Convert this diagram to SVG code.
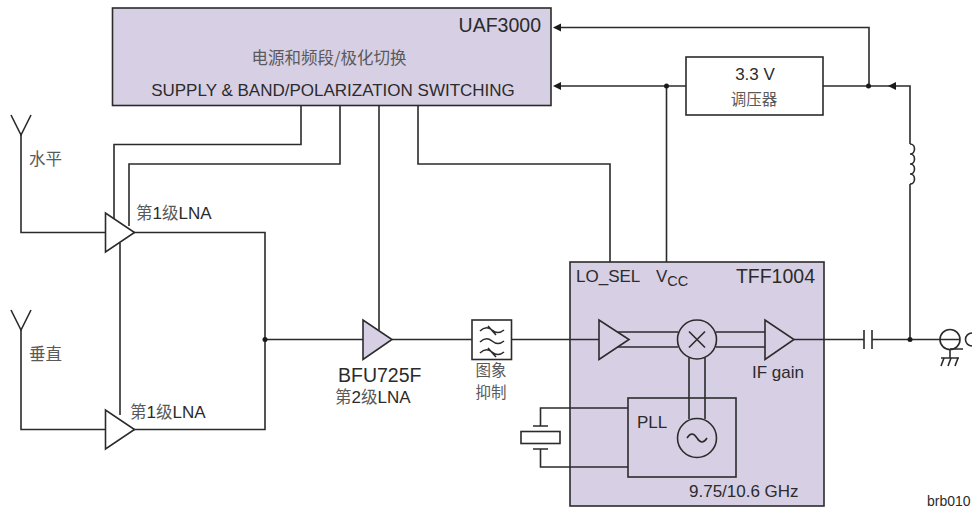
<svg xmlns="http://www.w3.org/2000/svg" width="975" height="513" viewBox="0 0 975 513">
<style>
text{font-family:"Liberation Sans","Noto Sans CJK SC",sans-serif;font-size:17px;fill:#2b2b2b}
.big{font-size:19.500px}
.cn{font-family:"Noto Sans CJK SC",sans-serif;font-size:16.500px;fill:#5a5a5a}
.sm{font-size:15.500px}
.w{fill:none;stroke:#2b2b2b;stroke-width:1.6}
.b{fill:#d7cfe4;stroke:#2b2b2b;stroke-width:1.6}
.o{fill:#fff;stroke:#2b2b2b;stroke-width:1.6}
.d{fill:#1a1a1a}
</style>
<rect width="975" height="513" fill="#fff"/>
<g id="tff1004-box"><rect class="b" x="570" y="262" width="254" height="244"/></g>
<g id="connectors" class="w">
<path d="M301 105V144.500H114V222"/>
<path d="M340 105V164H129V226"/>
<path d="M379 105V330"/>
<path d="M418 105V164H610V262"/>
<path d="M120 243V415"/>
<path d="M21 135V232.500H106"/>
<path d="M21 330V429.500H106"/>
<path d="M11 115L21 135L31 115"/>
<path d="M11 310L21 330L31 310"/>
<path d="M134 232.500H265V429.500H134"/>
<path d="M265 339.500H363"/>
<path d="M392 339.500H472"/>
<path d="M511 339.500H599"/>
<path d="M666.500 86V262"/>
<path d="M560 27.500H869V86"/>
<path d="M560 86H686"/>
<path d="M823 86H910V144"/>
<path d="M910 144c6 0 6 10 0 10c6 0 6 10 0 10c6 0 6 10 0 10c6 0 6 10 0 10"/>
<path d="M910 184V339.500"/>
<path d="M794 339.500H864M872 339.500H960"/>
<path d="M864 330V349M872 330V349"/>
<path d="M628 408H540.500V426M533 426H548M533 449H548M540.500 449V467H628"/>
<path d="M617 332H678M617 347H678M716 332H770M716 347H770"/>
<path d="M689 358V419M705 358V419"/>
<path d="M950 349H963M950 349V358M941 358H959"/>
</g>
<g id="arrowheads" class="d">
<path d="M553 27.500L561 23.500V31.500Z"/>
<path d="M553 86L561 82V90Z"/>
<path d="M888 86L896 82V90Z"/>
<circle cx="265" cy="339.500" r="2.500"/>
<circle cx="666.500" cy="86" r="2.500"/>
<circle cx="868.500" cy="86" r="2.500"/>
<circle cx="910" cy="339.500" r="2.500"/>
</g>
<g id="uaf3000"><rect class="b" x="112.500" y="8" width="438.500" height="97.500"/>
<text x="541" y="32" text-anchor="end" class="big">UAF3000</text>
<text x="329" y="64" text-anchor="middle" class="cn">电源和频段/极化切换</text>
<text x="333" y="96" text-anchor="middle">SUPPLY &amp; BAND/POLARIZATION SWITCHING</text></g>
<g id="regulator"><rect class="o" x="686" y="57" width="137" height="58"/>
<text x="755" y="80" text-anchor="middle">3.3 V</text>
<text x="754" y="105" text-anchor="middle" class="cn sm">调压器</text></g>
<g id="lna1"><path class="o" d="M105.500 213V252L134.500 232.500Z"/><text x="136" y="219"><tspan class="cn">第</tspan>1<tspan class="cn">级</tspan>LNA</text></g>
<g id="lna1b"><path class="o" d="M105.500 410V449L134.500 429.500Z"/><text x="130" y="418"><tspan class="cn">第</tspan>1<tspan class="cn">级</tspan>LNA</text></g>
<g id="ant-h"><text x="29" y="165" class="cn">水平</text></g>
<g id="ant-v"><text x="29" y="360" class="cn">垂直</text></g>
<g id="bfu725f"><path class="b" d="M363 320V359.500L392 339.500Z"/>
<text x="338" y="382" class="big">BFU725F</text>
<text x="335" y="403"><tspan class="cn">第</tspan>2<tspan class="cn">级</tspan>LNA</text></g>
<g id="filter"><rect class="o" x="472" y="320" width="39.500" height="39.500"/>
<path class="w" d="M480 331q6-6 12-1t12 0M480 342q6-6 12-1t12 0M480 353q6-6 12-1t12 0M488 326l8 9M488 348l8 9"/>
<text x="491" y="376" text-anchor="middle" class="cn sm">图象</text>
<text x="491" y="398" text-anchor="middle" class="cn sm">抑制</text></g>
<g id="crystal"><rect class="o" x="521" y="431.500" width="39" height="12"/></g>
<g id="rf-amp"><path class="b" d="M599 320V359.500L629 339.500Z"/></g>
<g id="mixer"><circle class="b" cx="697" cy="339.500" r="19.500"/><path class="w" d="M689 331.500L705 347.500M705 331.500L689 347.500"/></g>
<g id="if-amp"><path class="b" d="M765 320V359.500L794 339.500Z"/><text x="752" y="378">IF gain</text></g>
<g id="pll"><rect class="w" x="628" y="398" width="108" height="79"/><text x="637" y="428">PLL</text>
<circle class="b" cx="697" cy="438" r="19.500"/><path class="w" d="M687 438q5-8 10 0t10 0"/></g>
<g id="tff-labels"><text x="576" y="282">LO_SEL</text><text x="656" y="282">V<tspan dy="4" style="font-size:14.500px">CC</tspan></text>
<text x="815" y="283" text-anchor="end" class="big">TFF1004</text>
<text x="689" y="497">9.75/10.6 GHz</text></g>
<g id="connector"><circle class="w" cx="950" cy="339.500" r="10"/><path class="w" d="M972 333a6.500 6.500 0 0 0 0 13M944 358l-3 8M951 358l-3 8M958 358l-3 8"/></g>
<text x="927" y="506" style="font-size:14px">brb010</text>
</svg>
